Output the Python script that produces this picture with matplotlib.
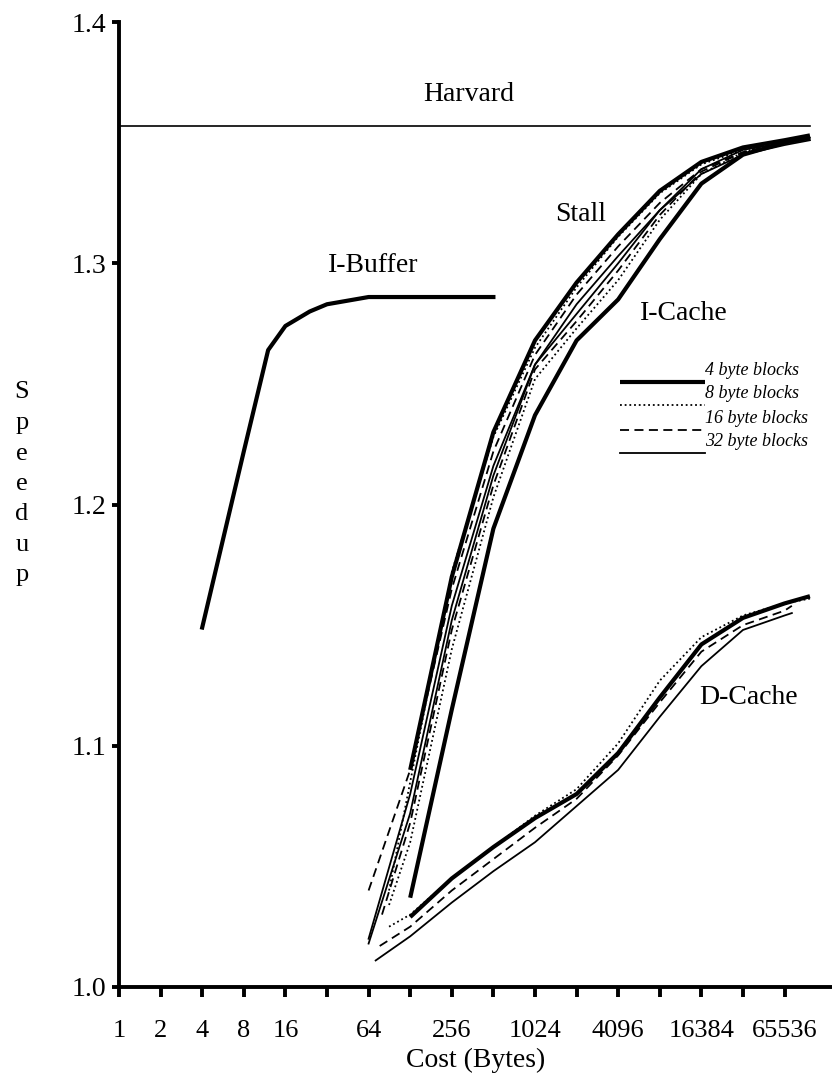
import matplotlib.pyplot as plt
from matplotlib.lines import Line2D

plt.rcParams['font.family'] = ['Liberation Serif', 'DejaVu Serif']

# ---- data (cost in bytes, speedup) ----
harvard_speedup = 1.357
harvard_cost = [1, 100000]

ibuf_cost = [4, 8, 12, 16, 24, 32, 64, 128, 256, 512]
ibuf_speedup = [1.149, 1.222, 1.264, 1.274, 1.280, 1.283, 1.286, 1.286, 1.286, 1.286]

pow_cost = [128, 256, 512, 1024, 2048, 4096, 8192, 16384, 32768, 65536, 100000]

stall_4_cost = pow_cost
stall_4 = [1.090, 1.170, 1.230, 1.268, 1.292, 1.312, 1.330, 1.342, 1.348, 1.351, 1.353]
stall_8_cost = [90] + pow_cost
stall_8 = [1.040, 1.085, 1.172, 1.228, 1.265, 1.290, 1.311, 1.329, 1.341, 1.347, 1.350, 1.352]
stall_16_cost = [64] + pow_cost
stall_16 = [1.040, 1.090, 1.165, 1.222, 1.262, 1.287, 1.307, 1.325, 1.339, 1.346, 1.350, 1.352]
stall_32_cost = [64] + pow_cost
stall_32 = [1.020, 1.080, 1.158, 1.216, 1.258, 1.283, 1.303, 1.322, 1.337, 1.345, 1.349, 1.351]

icache_4_cost = pow_cost
icache_4 = [1.037, 1.115, 1.190, 1.237, 1.268, 1.285, 1.310, 1.333, 1.345, 1.350, 1.352]
icache_8_cost = [90] + pow_cost
icache_8 = [1.034, 1.060, 1.140, 1.203, 1.252, 1.273, 1.293, 1.318, 1.337, 1.346, 1.350, 1.352]
icache_16_cost = [80] + pow_cost
icache_16 = [1.030, 1.068, 1.148, 1.208, 1.256, 1.276, 1.297, 1.320, 1.338, 1.346, 1.350, 1.352]
icache_32_cost = [64] + pow_cost
icache_32 = [1.018, 1.072, 1.152, 1.212, 1.258, 1.279, 1.300, 1.322, 1.339, 1.347, 1.350, 1.352]

dcache_4_cost = pow_cost
dcache_4 = [1.029, 1.045, 1.058, 1.070, 1.080, 1.097, 1.120, 1.142, 1.153, 1.159, 1.162]
dcache_8_cost = [90] + pow_cost
dcache_8 = [1.025, 1.030, 1.045, 1.058, 1.071, 1.082, 1.101, 1.127, 1.145, 1.154, 1.159, 1.161]
dcache_16_cost = [77] + pow_cost[:-1] + [74000]
dcache_16 = [1.017, 1.025, 1.040, 1.053, 1.066, 1.078, 1.096, 1.118, 1.139, 1.150, 1.156, 1.158]
dcache_32_cost = [72] + pow_cost[:-1] + [74000]
dcache_32 = [1.011, 1.021, 1.035, 1.048, 1.060, 1.075, 1.090, 1.112, 1.133, 1.148, 1.154, 1.155]

tick_cost = [2 ** i for i in range(17)]
tick_labels = ['1', '2', '4', '8', '16', '', '64', '', '256', '', '1024', '',
               '4096', '', '16384', '', '65536']

block_labels = ['4 byte blocks', '8 byte blocks', '16 byte blocks', '32 byte blocks']

# ---- styles ----
thick = dict(color='black', lw=3.0, ls='-', solid_capstyle='butt')
dotted = dict(color='black', lw=1.3, ls=(0, (1, 1.6)))
dashed = dict(color='black', lw=1.3, ls=(0, (5, 3)))
thin = dict(color='black', lw=1.3, ls='-')
styles = [thick, dotted, dashed, thin]

W, H = 832, 1080
fig = plt.figure(figsize=(W / 100, H / 100), dpi=100)
ax = fig.add_axes([119 / W, 1 - 987 / H, (W - 119) / W, (987 - 22) / H])

ax.plot(harvard_cost, [harvard_speedup] * 2, color='black', lw=1.2)
ax.plot(ibuf_cost, ibuf_speedup, color='black', lw=3.0)

groups = [
    [(stall_4_cost, stall_4), (stall_8_cost, stall_8), (stall_16_cost, stall_16), (stall_32_cost, stall_32)],
    [(icache_4_cost, icache_4), (icache_8_cost, icache_8), (icache_16_cost, icache_16), (icache_32_cost, icache_32)],
    [(dcache_4_cost, dcache_4), (dcache_8_cost, dcache_8), (dcache_16_cost, dcache_16), (dcache_32_cost, dcache_32)],
]
for grp in groups:
    for (xs, ys), st in zip(grp, styles):
        ax.plot(xs, ys, **st)

ax.set_xscale('log', base=2)
ax.set_xlim(1, 2 ** 17.14)
ax.set_ylim(1.0, 1.4)
ax.set_xticks(tick_cost)
ax.set_xticklabels(tick_labels)
ax.minorticks_off()
ax.set_yticks([1.0, 1.1, 1.2, 1.3, 1.4])
ax.set_yticklabels(['1.0', '1.1', '1.2', '1.3', '1.4'])

for s in ['top', 'right']:
    ax.spines[s].set_visible(False)
for s in ['left', 'bottom']:
    ax.spines[s].set_linewidth(2.8)
ax.tick_params(axis='x', direction='out', length=7, width=2.8, labelsize=19, pad=17)
ax.tick_params(axis='y', direction='out', length=5, width=2.8, labelsize=20, pad=4)

ax.set_xlabel('Cost (Bytes)', fontsize=20, labelpad=4)

# stacked vertical y label
fig.text(22 / W, 1 - 484 / H, '\n'.join('Speedup'), fontsize=19,
         ha='center', va='center', linespacing=1.5)

# curve annotations
ax.text(2 ** 8.4, 1.370, 'Harvard', fontsize=20, ha='center', va='center')
ax.text(2 ** 6.1, 1.299, 'I-Buffer', fontsize=20, ha='center', va='center')
ax.text(2 ** 11.1, 1.320, 'Stall', fontsize=20, ha='center', va='center')
ax.text(2 ** 13.58, 1.279, 'I-Cache', fontsize=20, ha='center', va='center')
ax.text(2 ** 15.14, 1.120, 'D-Cache', fontsize=20, ha='center', va='center')

# hand-drawn style legend
row_y = [382, 405, 430, 453]
for py, lab, st in zip(row_y, block_labels, styles):
    fig.add_artist(Line2D([620 / W, 705 / W], [1 - py / H, 1 - py / H], **st))
    fig.text(705 / W, 1 - (py - 3) / H, lab, fontsize=13, style='italic',
             ha='left', va='bottom')

fig.savefig('out.png', dpi=100)
